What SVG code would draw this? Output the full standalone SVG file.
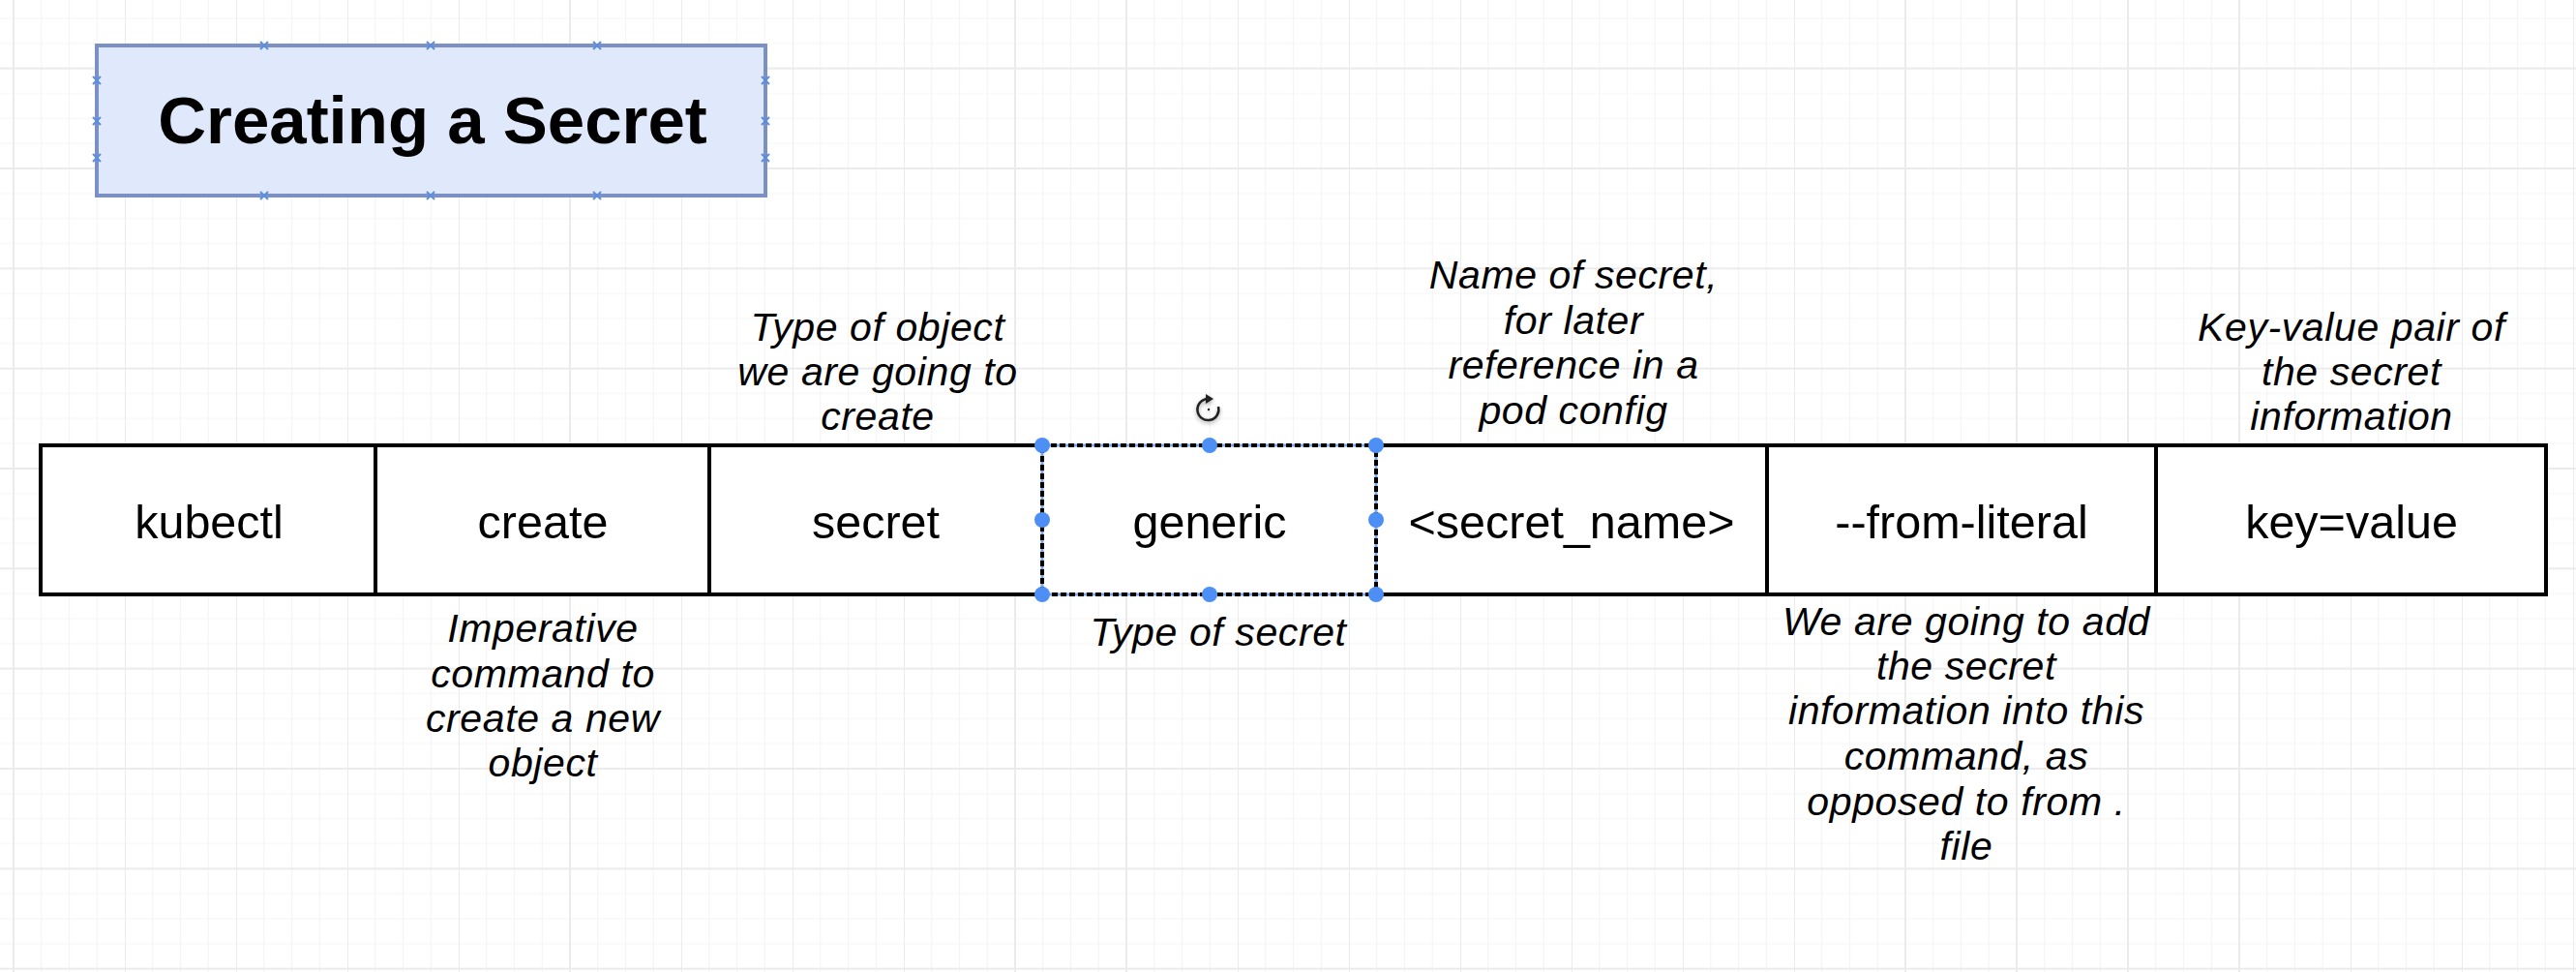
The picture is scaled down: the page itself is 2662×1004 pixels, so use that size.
<svg xmlns="http://www.w3.org/2000/svg" width="2662" height="1004" viewBox="0 0 2662 1004">
  <defs>
    <pattern id="grid" x="13" y="69.67" width="115" height="103.33" patternUnits="userSpaceOnUse">
      <path d="M29.75 0V103.33M58.5 0V103.33M87.25 0V103.33M0 26.83H115M0 52.67H115M0 78.5H115" stroke="#f5f5f5" stroke-width="1.2" fill="none"/>
      <path d="M1 0V103.33M0 1H115" stroke="#ebebeb" stroke-width="2" fill="none"/>
    </pattern>
    <filter id="shadow" x="-50%" y="-50%" width="200%" height="200%">
      <feDropShadow dx="0" dy="2" stdDeviation="2" flood-color="#000" flood-opacity="0.35"/>
    </filter>
  </defs>
  <style>
    .cell { fill: #ffffff; stroke: #000000; stroke-width: 4; }
    .cellText { font-family: "Liberation Sans", Arial, Helvetica, sans-serif; font-size: 48.5px; fill: #000; text-anchor: middle; }
    .note { font-family: "Liberation Sans", Arial, Helvetica, sans-serif; font-size: 41px; font-style: italic; letter-spacing: 0.6px; fill: #000; text-anchor: middle; }
    .title { font-family: "Liberation Sans", Arial, Helvetica, sans-serif; font-size: 69px; font-weight: bold; fill: #000; text-anchor: middle; }
    .cp { stroke: #5a8fe0; stroke-width: 2; fill: none; }
    .handle { fill: #4d8ff5; }
  </style>

  <rect x="0" y="0" width="2662" height="1004" fill="#ffffff"/>
  <rect x="0" y="0" width="2662" height="1004" fill="url(#grid)"/>

  <g id="title">
    <rect x="100" y="47" width="691" height="155" fill="#dfe9fb" stroke="#7b90c4" stroke-width="4"/>
    <path class="cp" d="M269 43l8 8M277 43l-8 8M441 43l8 8M449 43l-8 8M613 43l8 8M621 43l-8 8M269 198l8 8M277 198l-8 8M441 198l8 8M449 198l-8 8M613 198l8 8M621 198l-8 8M96 79l8 8M104 79l-8 8M96 121l8 8M104 121l-8 8M96 159l8 8M104 159l-8 8M787 79l8 8M795 79l-8 8M787 121l8 8M795 121l-8 8M787 159l8 8M795 159l-8 8"/>
    <text class="title" x="447" y="148">Creating a Secret</text>
  </g>

  <g id="connectors"></g>

  <g id="cell-kubectl">
    <rect class="cell" x="42" y="460" width="346" height="154"/>
    <text class="cellText" x="216" y="556">kubectl</text>
  </g>
  <g id="cell-create">
    <rect class="cell" x="388" y="460" width="345" height="154"/>
    <text class="cellText" x="561" y="556">create</text>
  </g>
  <g id="cell-secret">
    <rect class="cell" x="733" y="460" width="344" height="154"/>
    <text class="cellText" x="905" y="556">secret</text>
  </g>
  <g id="cell-secret-name">
    <rect class="cell" x="1422" y="460" width="404" height="154"/>
    <text class="cellText" x="1624" y="556">&lt;secret_name&gt;</text>
  </g>
  <g id="cell-from-literal">
    <rect class="cell" x="1826" y="460" width="402" height="154"/>
    <text class="cellText" x="2027" y="556">--from-literal</text>
  </g>
  <g id="cell-key-value">
    <rect class="cell" x="2228" y="460" width="403" height="154"/>
    <text class="cellText" x="2430" y="556">key=value</text>
  </g>
  <g id="cell-generic">
    <rect x="1077" y="460" width="345" height="154" fill="#ffffff" stroke="#ffffff" stroke-width="4"/>
    <rect x="1077" y="460" width="345" height="154" fill="none" stroke="#7aa6ea" stroke-width="3"/>
    <rect x="1077" y="460" width="345" height="154" fill="none" stroke="#000000" stroke-width="4" stroke-dasharray="6 3"/>
    <text class="cellText" x="1250" y="556">generic</text>
    <circle class="handle" cx="1077" cy="460" r="8"/>
    <circle class="handle" cx="1250" cy="460" r="8"/>
    <circle class="handle" cx="1422" cy="460" r="8"/>
    <circle class="handle" cx="1077" cy="537" r="8"/>
    <circle class="handle" cx="1422" cy="537" r="8"/>
    <circle class="handle" cx="1077" cy="614" r="8"/>
    <circle class="handle" cx="1250" cy="614" r="8"/>
    <circle class="handle" cx="1422" cy="614" r="8"/>
    <g filter="url(#shadow)">
      <path d="M1248 412 A11 11 0 1 0 1259 420" fill="none" stroke="#222" stroke-width="2.5"/>
      <path d="M1246 407L1254 412L1246 417z" fill="#222"/>
      <circle cx="1249" cy="423" r="1.2" fill="#222"/>
    </g>
  </g>

  <g id="note-type-of-object">
    <text class="note" x="907" y="352">Type of object</text>
    <text class="note" x="907" y="398">we are going to</text>
    <text class="note" x="907" y="444">create</text>
  </g>
  <g id="note-name-of-secret">
    <text class="note" x="1626" y="298">Name of secret,</text>
    <text class="note" x="1626" y="345">for later</text>
    <text class="note" x="1626" y="391">reference in a</text>
    <text class="note" x="1626" y="438">pod config</text>
  </g>
  <g id="note-key-value">
    <text class="note" x="2430" y="352">Key-value pair of</text>
    <text class="note" x="2430" y="398">the secret</text>
    <text class="note" x="2430" y="444">information</text>
  </g>
  <g id="note-imperative">
    <text class="note" x="561" y="663">Imperative</text>
    <text class="note" x="561" y="710">command to</text>
    <text class="note" x="561" y="756">create a new</text>
    <text class="note" x="561" y="802">object</text>
  </g>
  <g id="note-type-of-secret">
    <text class="note" x="1259" y="667">Type of secret</text>
  </g>
  <g id="note-from-literal">
    <text class="note" x="2032" y="656">We are going to add</text>
    <text class="note" x="2032" y="702">the secret</text>
    <text class="note" x="2032" y="748">information into this</text>
    <text class="note" x="2032" y="795">command, as</text>
    <text class="note" x="2032" y="842">opposed to from .</text>
    <text class="note" x="2032" y="888">file</text>
  </g>
</svg>
